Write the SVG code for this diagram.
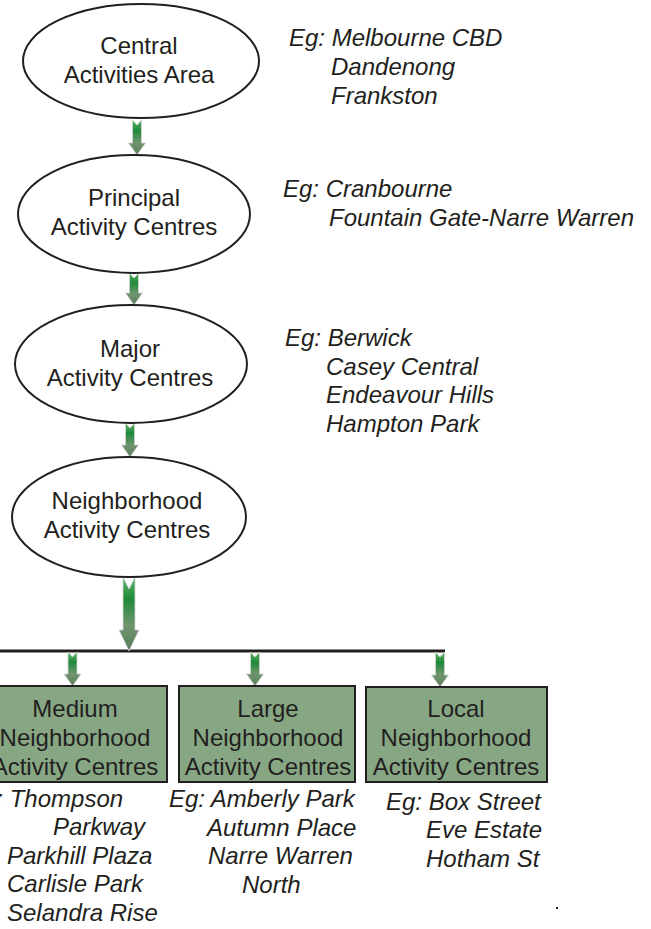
<svg xmlns="http://www.w3.org/2000/svg" width="651" height="929" viewBox="0 0 651 929">
<defs>
<linearGradient id="ag" x1="0" y1="0" x2="0" y2="1">
<stop offset="0" stop-color="#5fb86a"/>
<stop offset="0.3" stop-color="#1f8a39"/>
<stop offset="0.65" stop-color="#6f956f"/>
<stop offset="1" stop-color="#5a7c5a"/>
</linearGradient>
<style>
.nd{fill:#fff;stroke:#231f20;stroke-width:2}
.bx{fill:#87a784;stroke:#231f20;stroke-width:2}
.t{font-family:"Liberation Sans",Arial,sans-serif;font-size:24px;fill:#231f20;text-anchor:middle}
.e{font-family:"Liberation Sans",Arial,sans-serif;font-size:24px;font-style:italic;fill:#231f20}
.ar{fill:url(#ag);stroke:#d4d4d4;stroke-width:0.8}
.ln{stroke:#231f20;stroke-width:3;fill:none}
</style>
</defs>
<rect width="651" height="929" fill="#fff"/>
<g id="connectors">
<line class="ln" x1="0" y1="651" x2="445" y2="651"/>
<path class="ar" d="M132.5,120 L137,125 L141.5,120 L141.5,143 L145.5,143 L137,155 L128.5,143 L132.5,143 Z"/>
<path class="ar" d="M129.5,273 L134,278 L138.5,273 L138.5,293 L142.5,293 L134,305 L125.5,293 L129.5,293 Z"/>
<path class="ar" d="M125.5,423 L130,428 L134.5,423 L134.5,445 L138.5,445 L130,457 L121.5,445 L125.5,445 Z"/>
<path class="ar" d="M123,577 L129,589 L135,577 L135,630 L139,630 L129,651 L119,630 L123,630 Z"/>
<path class="ar" d="M68,652 L72.5,657 L77,652 L77,674 L81,674 L72.5,686 L64,674 L68,674 Z"/>
<path class="ar" d="M250.5,652 L255,657 L259.5,652 L259.5,674 L263.5,674 L255,686 L246.5,674 L250.5,674 Z"/>
<path class="ar" d="M435.5,652 L440,657 L444.5,652 L444.5,675 L448.5,675 L440,687 L431.5,675 L435.5,675 Z"/>
</g>
<g id="central">
<ellipse class="nd" cx="141" cy="61" rx="118" ry="57"/>
<text class="t" x="139" y="54">Central</text>
<text class="t" x="139" y="83">Activities Area</text>
</g>
<g id="principal">
<ellipse class="nd" cx="134" cy="214" rx="116" ry="59"/>
<text class="t" x="134" y="206">Principal</text>
<text class="t" x="134" y="235">Activity Centres</text>
</g>
<g id="major">
<ellipse class="nd" cx="131" cy="364" rx="116" ry="59"/>
<text class="t" x="130" y="357">Major</text>
<text class="t" x="130" y="386">Activity Centres</text>
</g>
<g id="neighborhood">
<ellipse class="nd" cx="129" cy="517" rx="117" ry="60"/>
<text class="t" x="127" y="509">Neighborhood</text>
<text class="t" x="127" y="538">Activity Centres</text>
</g>
<g id="medium">
<rect class="bx" x="-12" y="686" width="179" height="96"/>
<text class="t" x="75" y="717">Medium</text>
<text class="t" x="75" y="746">Neighborhood</text>
<text class="t" x="75" y="775">Activity Centres</text>
</g>
<g id="large">
<rect class="bx" x="179" y="686" width="176" height="96"/>
<text class="t" x="268" y="717">Large</text>
<text class="t" x="268" y="746">Neighborhood</text>
<text class="t" x="268" y="775">Activity Centres</text>
</g>
<g id="local">
<rect class="bx" x="366" y="687" width="181" height="95"/>
<text class="t" x="456" y="717">Local</text>
<text class="t" x="456" y="746">Neighborhood</text>
<text class="t" x="456" y="775">Activity Centres</text>
</g>
<g id="examples">
<text class="e" x="289" y="46">Eg: Melbourne CBD</text>
<text class="e" x="331" y="75">Dandenong</text>
<text class="e" x="331" y="104">Frankston</text>
<text class="e" x="283" y="197">Eg: Cranbourne</text>
<text class="e" x="329" y="226">Fountain Gate-Narre Warren</text>
<text class="e" x="285" y="346">Eg: Berwick</text>
<text class="e" x="326" y="375">Casey Central</text>
<text class="e" x="326" y="403">Endeavour Hills</text>
<text class="e" x="326" y="432">Hampton Park</text>
<text class="e" x="-33" y="807">Eg: Thompson</text>
<text class="e" x="53" y="835">Parkway</text>
<text class="e" x="7" y="864">Parkhill Plaza</text>
<text class="e" x="7" y="892">Carlisle Park</text>
<text class="e" x="7" y="921">Selandra Rise</text>
<text class="e" x="169" y="807">Eg: Amberly Park</text>
<text class="e" x="207" y="836">Autumn Place</text>
<text class="e" x="208" y="864">Narre Warren</text>
<text class="e" x="242" y="893">North</text>
<text class="e" x="386" y="810">Eg: Box Street</text>
<text class="e" x="426" y="838">Eve Estate</text>
<text class="e" x="426" y="867">Hotham St</text>
</g>
<rect x="556" y="907" width="2" height="2" fill="#231f20"/>
</svg>
